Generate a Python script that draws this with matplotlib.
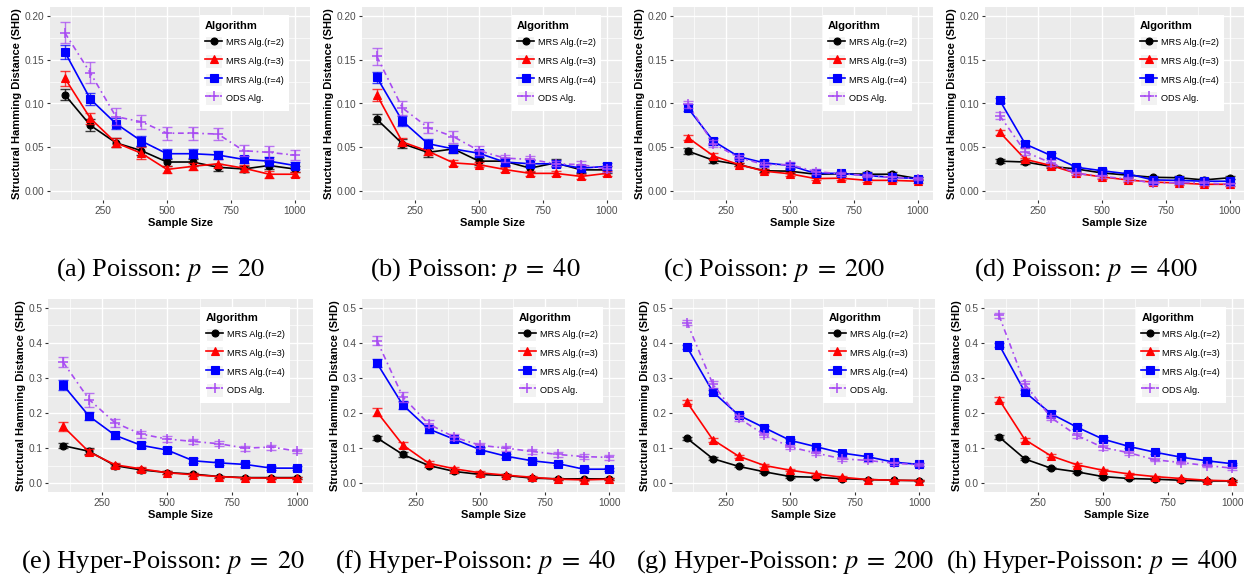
import numpy as np
import matplotlib
matplotlib.use("Agg")
import matplotlib.pyplot as plt
from matplotlib.patches import Rectangle
from matplotlib.legend_handler import HandlerLine2D

plt.rcParams['font.family'] = ['Liberation Sans', 'DejaVu Sans']
plt.rcParams['mathtext.fontset'] = 'stix'

sample_size = [100, 200, 300, 400, 500, 600, 700, 800, 900, 1000]
labels = ['MRS Alg.(r=2)', 'MRS Alg.(r=3)', 'MRS Alg.(r=4)', 'ODS Alg.']

# ---- Poisson (top row) ----
a_r2 = [0.110, 0.075, 0.055, 0.046, 0.033, 0.033, 0.027, 0.025, 0.029, 0.025]
a_r3 = [0.129, 0.083, 0.055, 0.043, 0.0245, 0.028, 0.031, 0.026, 0.019, 0.019]
a_r4 = [0.159, 0.105, 0.077, 0.057, 0.0425, 0.0425, 0.041, 0.036, 0.034, 0.029]
a_ods = [0.181, 0.135, 0.085, 0.079, 0.066, 0.066, 0.065, 0.046, 0.044, 0.041]
a_r2_err = [0.0065, 0.007, 0.005, 0.005, 0.004, 0.004, 0.004, 0.003, 0.004, 0.003]
a_r3_err = [0.0085, 0.006, 0.005, 0.007, 0.004, 0.004, 0.005, 0.004, 0.004, 0.003]
a_r4_err = [0.0085, 0.007, 0.006, 0.006, 0.005, 0.005, 0.005, 0.004, 0.005, 0.004]
a_ods_err = [0.012, 0.012, 0.0095, 0.008, 0.0075, 0.0075, 0.007, 0.006, 0.007, 0.006]

b_r2 = [0.082, 0.054, 0.044, 0.048, 0.034, 0.034, 0.026, 0.032, 0.024, 0.024]
b_r3 = [0.110, 0.056, 0.0455, 0.032, 0.030, 0.0245, 0.020, 0.020, 0.0165, 0.020]
b_r4 = [0.130, 0.080, 0.054, 0.048, 0.043, 0.033, 0.031, 0.031, 0.026, 0.028]
b_ods = [0.154, 0.095, 0.0725, 0.062, 0.046, 0.0375, 0.036, 0.031, 0.030, 0.025]
b_r2_err = [0.006, 0.005, 0.005, 0.005, 0.004, 0.004, 0.004, 0.004, 0.004, 0.004]
b_r3_err = [0.007, 0.005, 0.004, 0.003, 0.003, 0.003, 0.003, 0.003, 0.003, 0.003]
b_r4_err = [0.006, 0.006, 0.005, 0.004, 0.004, 0.004, 0.004, 0.004, 0.004, 0.004]
b_ods_err = [0.010, 0.008, 0.006, 0.007, 0.005, 0.004, 0.004, 0.003, 0.004, 0.003]

c_r2 = [0.0455, 0.035, 0.030, 0.023, 0.0225, 0.019, 0.0195, 0.019, 0.019, 0.014]
c_r3 = [0.061, 0.040, 0.030, 0.0225, 0.0195, 0.014, 0.0145, 0.012, 0.012, 0.011]
c_r4 = [0.095, 0.057, 0.039, 0.032, 0.029, 0.020, 0.020, 0.0175, 0.0155, 0.014]
c_ods = [0.099, 0.054, 0.038, 0.030, 0.030, 0.022, 0.0195, 0.0175, 0.0155, 0.014]
c_r2_err = [0.003, 0.003, 0.002, 0.002, 0.002, 0.002, 0.002, 0.002, 0.002, 0.002]
c_r3_err = [0.003, 0.003, 0.002, 0.002, 0.002, 0.002, 0.002, 0.002, 0.002, 0.002]
c_r4_err = [0.004, 0.004, 0.003, 0.003, 0.003, 0.002, 0.002, 0.002, 0.002, 0.002]
c_ods_err = [0.004, 0.004, 0.003, 0.003, 0.003, 0.003, 0.002, 0.002, 0.002, 0.002]

d_r2 = [0.034, 0.033, 0.028, 0.025, 0.0205, 0.018, 0.0155, 0.015, 0.0125, 0.015]
d_r3 = [0.067, 0.036, 0.029, 0.020, 0.016, 0.0125, 0.010, 0.009, 0.0075, 0.0075]
d_r4 = [0.1035, 0.0535, 0.0405, 0.027, 0.023, 0.0195, 0.0125, 0.012, 0.011, 0.011]
d_ods = [0.086, 0.0445, 0.032, 0.020, 0.0165, 0.0135, 0.009, 0.0095, 0.009, 0.0075]
d_r2_err = [0.002, 0.002, 0.002, 0.002, 0.002, 0.002, 0.002, 0.002, 0.002, 0.002]
d_r3_err = [0.003, 0.002, 0.002, 0.002, 0.002, 0.002, 0.002, 0.002, 0.002, 0.002]
d_r4_err = [0.003, 0.003, 0.003, 0.002, 0.002, 0.002, 0.002, 0.002, 0.002, 0.002]
d_ods_err = [0.004, 0.004, 0.003, 0.002, 0.002, 0.002, 0.002, 0.002, 0.002, 0.002]

# ---- Hyper-Poisson (bottom row) ----
e_r2 = [0.107, 0.091, 0.050, 0.038, 0.0305, 0.026, 0.019, 0.016, 0.016, 0.016]
e_r3 = [0.162, 0.089, 0.0525, 0.041, 0.030, 0.024, 0.019, 0.015, 0.0145, 0.0145]
e_r4 = [0.280, 0.191, 0.1365, 0.108, 0.0945, 0.064, 0.058, 0.0535, 0.043, 0.043]
e_ods = [0.345, 0.2385, 0.172, 0.140, 0.126, 0.119, 0.1125, 0.100, 0.103, 0.0915]
e_r2_err = [0.008, 0.008, 0.006, 0.005, 0.004, 0.004, 0.003, 0.003, 0.003, 0.003]
e_r3_err = [0.012, 0.008, 0.006, 0.005, 0.004, 0.004, 0.003, 0.003, 0.003, 0.003]
e_r4_err = [0.015, 0.012, 0.010, 0.009, 0.008, 0.007, 0.006, 0.006, 0.005, 0.005]
e_ods_err = [0.015, 0.020, 0.012, 0.010, 0.008, 0.008, 0.007, 0.007, 0.007, 0.006]

f_r2 = [0.129, 0.082, 0.0505, 0.0335, 0.025, 0.022, 0.0145, 0.0125, 0.0125, 0.0125]
f_r3 = [0.203, 0.109, 0.057, 0.041, 0.0295, 0.023, 0.017, 0.0115, 0.0095, 0.0115]
f_r4 = [0.342, 0.223, 0.1545, 0.125, 0.0955, 0.077, 0.064, 0.056, 0.040, 0.040]
f_ods = [0.4065, 0.246, 0.169, 0.131, 0.108, 0.100, 0.0905, 0.082, 0.076, 0.0735]
f_r2_err = [0.006, 0.006, 0.005, 0.004, 0.004, 0.003, 0.003, 0.003, 0.003, 0.003]
f_r3_err = [0.010, 0.008, 0.005, 0.004, 0.004, 0.003, 0.003, 0.003, 0.003, 0.003]
f_r4_err = [0.012, 0.012, 0.010, 0.008, 0.007, 0.006, 0.005, 0.005, 0.005, 0.004]
f_ods_err = [0.012, 0.015, 0.010, 0.008, 0.007, 0.007, 0.006, 0.006, 0.006, 0.006]

g_r2 = [0.128, 0.070, 0.048, 0.0325, 0.019, 0.017, 0.013, 0.0105, 0.0085, 0.0075]
g_r3 = [0.231, 0.124, 0.077, 0.0505, 0.037, 0.0265, 0.017, 0.0105, 0.0085, 0.0075]
g_r4 = [0.388, 0.2605, 0.194, 0.158, 0.122, 0.104, 0.086, 0.0755, 0.060, 0.0535]
g_ods = [0.458, 0.2825, 0.186, 0.1375, 0.103, 0.086, 0.0695, 0.065, 0.057, 0.0525]
g_r2_err = [0.005, 0.004, 0.003, 0.003, 0.003, 0.003, 0.002, 0.002, 0.002, 0.002]
g_r3_err = [0.006, 0.006, 0.004, 0.004, 0.003, 0.003, 0.003, 0.002, 0.002, 0.002]
g_r4_err = [0.006, 0.006, 0.006, 0.005, 0.005, 0.004, 0.004, 0.004, 0.003, 0.003]
g_ods_err = [0.008, 0.010, 0.008, 0.007, 0.006, 0.006, 0.005, 0.005, 0.004, 0.004]

h_r2 = [0.132, 0.069, 0.043, 0.0325, 0.019, 0.0135, 0.0115, 0.0085, 0.0065, 0.0065]
h_r3 = [0.2385, 0.124, 0.078, 0.0525, 0.037, 0.0265, 0.019, 0.0135, 0.0085, 0.0065]
h_r4 = [0.395, 0.2595, 0.1985, 0.160, 0.126, 0.105, 0.0885, 0.0745, 0.064, 0.0555]
h_ods = [0.478, 0.2825, 0.187, 0.1365, 0.102, 0.087, 0.067, 0.059, 0.0505, 0.043]
h_r2_err = [0.005, 0.004, 0.003, 0.003, 0.003, 0.002, 0.002, 0.002, 0.002, 0.002]
h_r3_err = [0.006, 0.006, 0.004, 0.004, 0.003, 0.003, 0.003, 0.002, 0.002, 0.002]
h_r4_err = [0.006, 0.006, 0.006, 0.005, 0.005, 0.004, 0.004, 0.004, 0.003, 0.003]
h_ods_err = [0.008, 0.010, 0.008, 0.007, 0.006, 0.006, 0.005, 0.005, 0.004, 0.004]

captions = ['(a) Poisson: $p\\;=\\;20$', '(b) Poisson: $p\\;=\\;40$',
            '(c) Poisson: $p\\;=\\;200$', '(d) Poisson: $p\\;=\\;400$',
            '(e) Hyper-Poisson: $p\\;=\\;20$', '(f) Hyper-Poisson: $p\\;=\\;40$',
            '(g) Hyper-Poisson: $p\\;=\\;200$', '(h) Hyper-Poisson: $p\\;=\\;400$']

panels = [
    (a_r2, a_r3, a_r4, a_ods, a_r2_err, a_r3_err, a_r4_err, a_ods_err),
    (b_r2, b_r3, b_r4, b_ods, b_r2_err, b_r3_err, b_r4_err, b_ods_err),
    (c_r2, c_r3, c_r4, c_ods, c_r2_err, c_r3_err, c_r4_err, c_ods_err),
    (d_r2, d_r3, d_r4, d_ods, d_r2_err, d_r3_err, d_r4_err, d_ods_err),
    (e_r2, e_r3, e_r4, e_ods, e_r2_err, e_r3_err, e_r4_err, e_ods_err),
    (f_r2, f_r3, f_r4, f_ods, f_r2_err, f_r3_err, f_r4_err, f_ods_err),
    (g_r2, g_r3, g_r4, g_ods, g_r2_err, g_r3_err, g_r4_err, g_ods_err),
    (h_r2, h_r3, h_r4, h_ods, h_r2_err, h_r3_err, h_r4_err, h_ods_err),
]

colors = ['black', '#FF0000', '#0000FF', '#A84CF2']
markers = ['o', '^', 's', '+']
msizes = [5, 5.5, 5.5, 6.5]
styles = ['-', '-', '-', (0, (3.5, 2.2, 1, 2.2))]


class KeyHandler(HandlerLine2D):
    """legend key with the grey ggplot-style background square"""
    def create_artists(self, legend, orig_handle, xdescent, ydescent,
                       width, height, fontsize, trans):
        bg = Rectangle((-xdescent, -ydescent), width, height, facecolor='#F2F2F2',
                       edgecolor='white', lw=0.8, transform=trans)
        arts = super().create_artists(legend, orig_handle, xdescent, ydescent,
                                      width, height, fontsize, trans)
        return [bg] + list(arts)


W, H = 1244, 575
fig = plt.figure(figsize=(W / 100, H / 100), dpi=100)

# pixel boxes (left, top, right, bottom)
boxes = [(50, 7, 310, 200), (362, 7, 622, 200), (673, 7, 933, 200), (985, 7, 1245, 200),
         (48, 299, 313, 492), (362, 299, 625, 492), (672, 299, 935, 492), (984, 299, 1248, 492)]
cap_pos = [(161, 270), (475, 270), (774, 270), (1086, 270),
           (163, 562), (475, 562), (785, 562), (1092, 562)]
cap_size = [19, 19, 19, 19, 19, 19, 19, 18.5]

for i, (data, box) in enumerate(zip(panels, boxes)):
    l, t, r, b = box
    ax = fig.add_axes([l / W, (H - b) / H, (r - l) / W, (b - t) / H])
    ax.set_facecolor('#EBEBEB')
    for s in ax.spines.values():
        s.set_visible(False)
    top = i < 4
    vals = data[:4]
    errs = data[4:]
    handles = []
    for k in range(4):
        ax.errorbar(sample_size, vals[k], yerr=errs[k], fmt='none',
                    ecolor=colors[k], elinewidth=1.0, capsize=3.8,
                    capthick=1.0, alpha=0.75, zorder=3 + k)
        ln, = ax.plot(sample_size, vals[k], color=colors[k], marker=markers[k],
                      ms=msizes[k], mew=1.1 if k == 3 else 0.8, ls=styles[k],
                      lw=1.2, zorder=4 + k)
        handles.append(ln)

    ax.set_xlim(42, 1060)
    ax.set_xticks([250, 500, 750, 1000])
    ax.set_xticks([125, 375, 625, 875], minor=True)
    if top:
        ax.set_ylim(-0.0105, 0.2105)
        ax.set_yticks(np.arange(0, 0.201, 0.05))
        ax.set_yticks(np.arange(0.025, 0.2, 0.05), minor=True)
        ax.set_yticklabels(['%.2f' % v for v in np.arange(0, 0.201, 0.05)])
    else:
        ax.set_ylim(-0.025, 0.525)
        ax.set_yticks(np.arange(0, 0.501, 0.1))
        ax.set_yticks(np.arange(0.05, 0.5, 0.1), minor=True)
        ax.set_yticklabels(['%.1f' % v for v in np.arange(0, 0.501, 0.1)])
    ax.grid(which='major', color='white', lw=1.0)
    ax.grid(which='minor', color='white', lw=0.5)
    ax.set_axisbelow(True)
    ax.tick_params(which='major', length=2.5, width=0.8, color='#333333',
                   labelsize=7.3, labelcolor='#4D4D4D', pad=1.5)
    ax.tick_params(which='minor', length=0)
    ax.set_xlabel('Sample Size', fontsize=8, fontweight='bold', labelpad=2)
    ax.set_ylabel('Structural Hamming Distance (SHD)', fontsize=8,
                  fontweight='bold', labelpad=2)

    leg = ax.legend(handles, labels, handler_map={ln.__class__: KeyHandler()},
                    loc='upper left', bbox_to_anchor=(0.575, 0.958), borderaxespad=0,
                    fontsize=6.6, title='Algorithm',
                    title_fontproperties={'weight': 'bold', 'size': 8},
                    alignment='left', numpoints=1, handlelength=1.9, handleheight=1.9,
                    handletextpad=0.4, labelspacing=0.55, borderpad=0.6,
                    frameon=True, fancybox=False, framealpha=1,
                    facecolor='white', edgecolor='none')
    leg.set_zorder(10)

    cx, cy = cap_pos[i]
    fig.text(cx / W, (H - cy) / H, captions[i], ha='center', va='center',
             fontsize=cap_size[i], family=['Liberation Serif', 'DejaVu Serif'])

fig.savefig('out.png', dpi=100)
